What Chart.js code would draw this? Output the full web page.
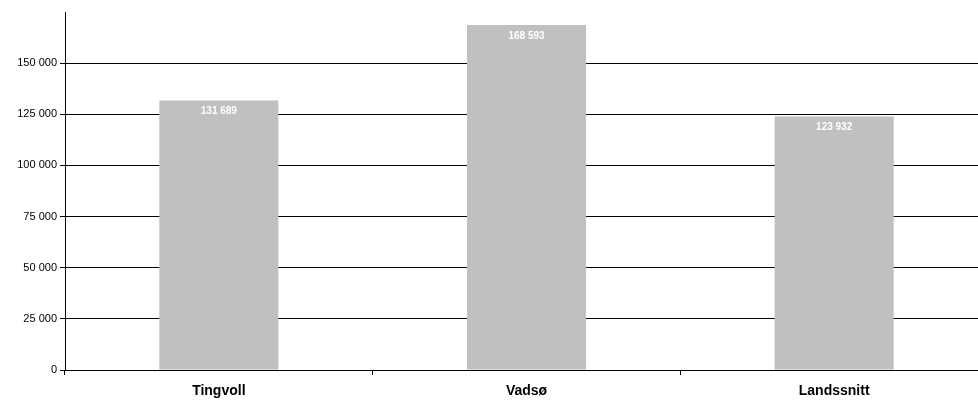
<!DOCTYPE html>
<html>
<head>
<meta charset="utf-8">
<script src="https://cdn.jsdelivr.net/npm/chart.js@4"></script>
<style>
  html, body { margin: 0; padding: 0; background: #fff; overflow: hidden; }
  #wrap { width: 988px; height: 408px; }
</style>
</head>
<body>
<div id="wrap"><canvas id="inntektChart"></canvas></div>
<script>
var kategorier = ['Tingvoll', 'Vadsø', 'Landssnitt'];
var verdier = [131689, 168593, 123932];
var yTicks = [0, 25000, 50000, 75000, 100000, 125000, 150000];
var yMax = 175000;

function fmt(n) {
    return String(n).replace(/\B(?=(\d{3})+(?!\d))/g, ' ');
}

// verdi skrevet inni toppen av hver søyle
var etiketter = {
    id: 'etiketter',
    afterDatasetsDraw: function(chart) {
        var ctx = chart.ctx;
        var meta = chart.getDatasetMeta(0);
        ctx.save();
        ctx.fillStyle = '#ffffff';
        ctx.font = 'bold 10px "Liberation Sans", Arial, sans-serif';
        ctx.textAlign = 'center';
        ctx.textBaseline = 'top';
        meta.data.forEach(function(bar, i) {
            ctx.fillText(fmt(verdier[i]), bar.x, bar.y + 6);
        });
        ctx.restore();
    }
};

var ctx = document.getElementById('inntektChart').getContext('2d');
var myChart = new Chart(ctx, {
    type: 'bar',
    data: {
        labels: kategorier,
        datasets: [{
            data: verdier,
            backgroundColor: '#c0c0c0',
            borderWidth: 0,
            barPercentage: 0.387,
            categoryPercentage: 1
        }]
    },
    options: {
        responsive: true,
        maintainAspectRatio: false,
        animation: false,
        layout: { padding: { top: 12, right: 0, left: 0, bottom: 0 } },
        plugins: {
            legend: { display: false },
            tooltip: { enabled: false }
        },
        scales: {
            x: {
                offset: true,
                grid: {
                    offset: true,
                    drawOnChartArea: false,
                    color: '#000',
                    tickLength: 5
                },
                border: { color: '#000', width: 1 },
                ticks: {
                    color: '#000',
                    padding: 8,
                    font: { family: '"Liberation Sans", Arial, sans-serif', size: 14, weight: 'bold' }
                },
                afterFit: function(scale) { scale.height = 38; }
            },
            y: {
                min: 0,
                max: yMax,
                afterBuildTicks: function(scale) {
                    scale.ticks = yTicks.concat([yMax]).map(function(v) { return { value: v }; });
                },
                grid: {
                    color: function(c) { return c.tick && c.tick.value === yMax ? 'rgba(0,0,0,0)' : '#000'; },
                    tickLength: 5
                },
                border: { color: '#000', width: 1 },
                ticks: {
                    color: '#000',
                    padding: 3,
                    font: { family: '"Liberation Sans", Arial, sans-serif', size: 11 },
                    callback: function(v) { return v === yMax ? '' : fmt(v); }
                },
                afterFit: function(scale) { scale.width = 65; }
            }
        }
    },
    plugins: [etiketter]
});
</script>
</body>
</html>
